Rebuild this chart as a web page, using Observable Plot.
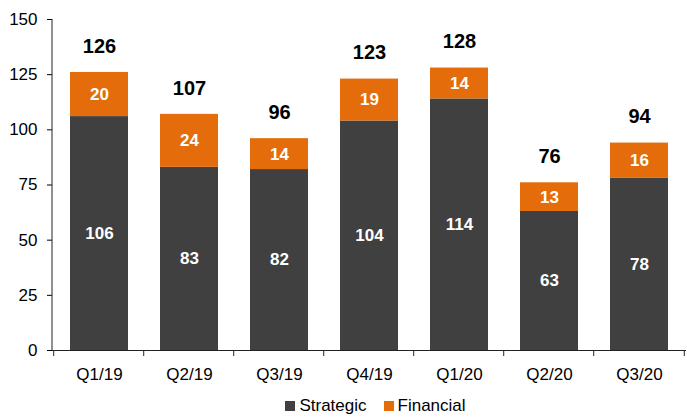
<!DOCTYPE html>
<html><head><meta charset="utf-8">
<script src="https://cdn.jsdelivr.net/npm/d3@7"></script>
<script src="https://cdn.jsdelivr.net/npm/@observablehq/plot@0.6"></script>
<style>
body{margin:0;background:#fff;font-family:"Liberation Sans",Arial,sans-serif;}
#legend{display:flex;justify-content:center;gap:17px;font-size:17px;color:#000;height:27px;align-items:center;padding-left:64px}
#legend span.sw{display:inline-block;width:10px;height:10px;margin-right:4px;vertical-align:0px}
</style></head>
<body><div id="chart"></div>
<div id="legend"></div>
<script>
const quarters = ["Q1/19","Q2/19","Q3/19","Q4/19","Q1/20","Q2/20","Q3/20"];
const strategic = [106, 83, 82, 104, 114, 63, 78];
const financial = [20, 24, 14, 19, 14, 13, 16];
const seriesNames = ["Strategic","Financial"];
const colors = ["#404040","#E46C0A"];
const yTicks = [0,25,50,75,100,125,150];

const rows = [];
quarters.forEach((q,i)=>{
  rows.push({q, series:"Strategic", v:strategic[i]});
  rows.push({q, series:"Financial", v:financial[i]});
});
const totals = quarters.map((q,i)=>({q, total: strategic[i]+financial[i]}));

const W = 687, H = 392, mL = 52, mR = 1;
const step = (W - mL - mR) / quarters.length;

const chart = Plot.plot({
  width: W, height: H,
  marginLeft: mL, marginRight: mR, marginTop: 19, marginBottom: 42,
  style: {fontFamily: "'Liberation Sans', Arial, sans-serif", fontSize: "17px", color:"#000", background:"#fff"},
  x: {domain: quarters, paddingInner: 0.36, paddingOuter: 0.18, label: null},
  y: {domain: [0,150], label: null},
  color: {domain: seriesNames, range: colors},
  marks: [
    Plot.barY(rows, Plot.stackY({x:"q", y:"v", fill:"series", order: seriesNames})),
    Plot.text(rows, Plot.stackY({x:"q", y:"v", z:"series", order: seriesNames, text:"v", fill:"white", fontWeight:"bold", fontSize:17})),
    Plot.text(totals, {x:"q", y:"total", text:"total", dy:-26, fontWeight:"bold", fontSize:20, fill:"#000"}),
    Plot.axisY({ticks: yTicks, tickSize:5, tickPadding:10, fontSize:17, label:null}),
    Plot.axisX({tickSize:0, tickPadding:17, fontSize:17, label:null}),
    Plot.ruleY([0], {stroke:"#222"}),
    Plot.tickX(quarters, {x: d=>d, stroke:"#222", render(index, scales, values, dims){
      const g = d3.create("svg:g").attr("stroke","#222");
      const y0 = scales.y(0);
      const xs = quarters.map(q=>scales.x(q) - (step - scales.x.bandwidth())/2);
      xs.push(xs[xs.length-1] + step);
      xs.forEach(x=> g.append("line").attr("x1",x).attr("x2",x).attr("y1",y0).attr("y2",y0+6));
      g.append("line").attr("x1",dims.marginLeft).attr("x2",dims.marginLeft).attr("y1",dims.marginTop).attr("y2",y0);
      return g.node();
    }})
  ]
});
document.getElementById("chart").appendChild(chart);
const lg = document.getElementById("legend");
seriesNames.forEach((s,i)=>{
  const d = document.createElement("div");
  d.innerHTML = `<span class="sw" style="background:${colors[i]}"></span>${s}`;
  lg.appendChild(d);
});
</script></body></html>
